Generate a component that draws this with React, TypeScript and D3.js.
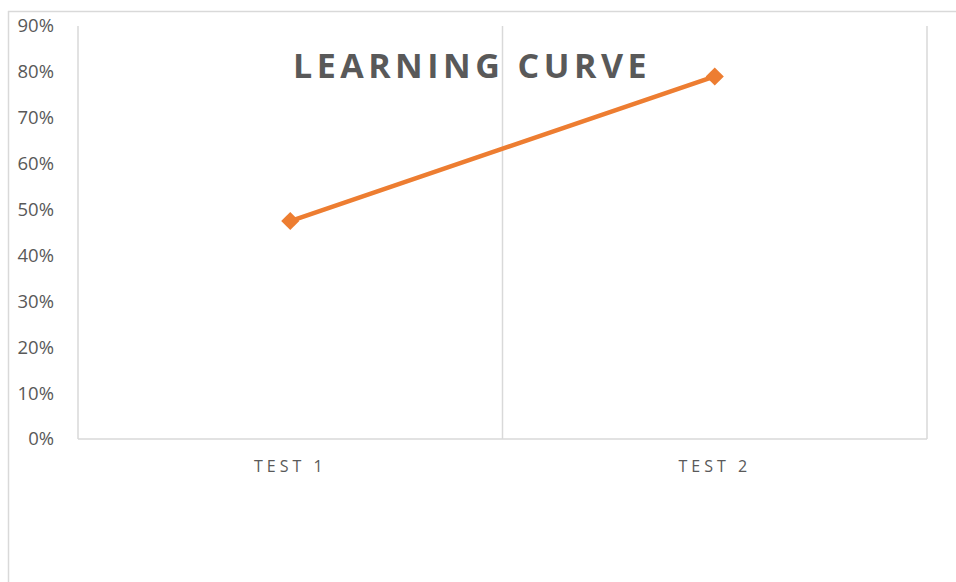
import React, { useEffect } from "react";
import * as d3 from "d3";

const categories = ["TEST 1", "TEST 2"];
const values = [0.475, 0.79];
const yTicks = [0, 0.1, 0.2, 0.3, 0.4, 0.5, 0.6, 0.7, 0.8, 0.9];
const title = "LEARNING CURVE";

export default function App() {
  useEffect(() => {
    document.body.style.margin = "0";
  }, []);
  const W = 956, H = 582;
  const left = 78, right = 927, top = 26, bottom = 439;
  const x = d3.scaleBand<string>().domain(categories).range([left, right]);
  const y = d3.scaleLinear().domain([0, 0.9]).range([bottom, top]);
  const line = d3
    .line<number>()
    .x((_, i) => (x(categories[i]) as number) + x.bandwidth() / 2)
    .y((d) => y(d));
  const font = "Open Sans, Calibri, sans-serif";
  const grey = "#595959";
  const gridColor = "#d9d9d9";
  const diamond = d3.symbol().type(d3.symbolDiamond2).size(210)() as string;
  return (
    <svg width={W} height={H} style={{ position: "absolute", left: 0, top: 0, background: "#fff" }}>
      <rect x={0} y={0} width={W} height={H} fill="#fff" />
      {/* outer frame */}
      <line x1={8.5} y1={11} x2={8.5} y2={H} stroke={gridColor} strokeWidth={1.5} />
      <line x1={8} y1={11.5} x2={W} y2={11.5} stroke={gridColor} strokeWidth={1.5} />
      {/* vertical gridlines at band edges */}
      {[left, ...categories.map((c) => (x(c) as number) + x.bandwidth())].map((gx, i) => (
        <line key={i} x1={gx} y1={top} x2={gx} y2={bottom} stroke={gridColor} strokeWidth={1.5} />
      ))}
      <line x1={left} y1={bottom} x2={right} y2={bottom} stroke={gridColor} strokeWidth={1.5} />
      {yTicks.map((t) => (
        <text key={t} x={54} y={y(t)} dy="0.35em" textAnchor="end" fontFamily={font} fontSize={18.5} fill={grey}>
          {d3.format(".0%")(t)}
        </text>
      ))}
      {categories.map((c) => (
        <text key={c} x={(x(c) as number) + x.bandwidth() / 2} y={472} textAnchor="middle" fontFamily={font} fontSize={16} letterSpacing={4} fill={grey}>
          {c}
        </text>
      ))}
      <text x={472} y={78} textAnchor="middle" fontFamily={font} fontSize={34} fontWeight="bold" letterSpacing={4.5} fill={grey}>
        {title}
      </text>
      <path d={line(values) as string} fill="none" stroke="#ED7D31" strokeWidth={4.5} strokeLinecap="round" />
      {values.map((v, i) => (
        <path key={i} d={diamond} transform={`translate(${(x(categories[i]) as number) + x.bandwidth() / 2},${y(v)})`} fill="#ED7D31" />
      ))}
    </svg>
  );
}
